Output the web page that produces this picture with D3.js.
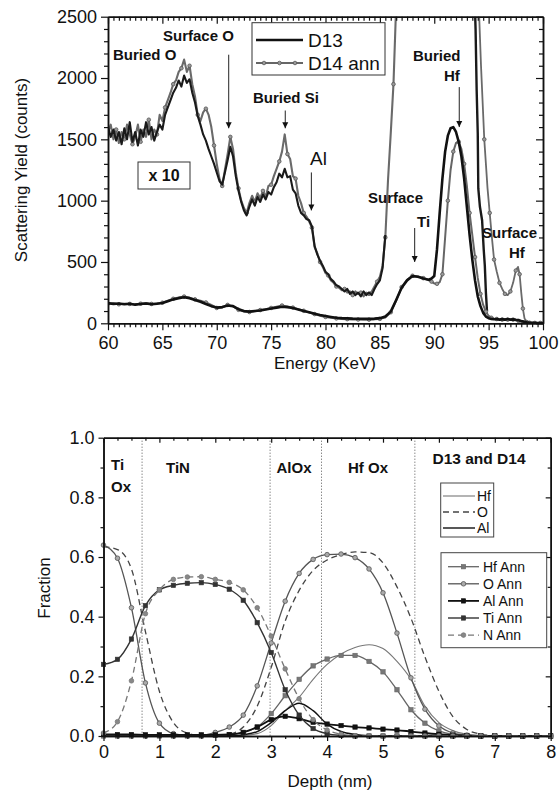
<!DOCTYPE html>
<html>
<head>
<meta charset="utf-8">
<script src="https://cdnjs.cloudflare.com/ajax/libs/d3/7.8.5/d3.min.js"></script>
<style>
  body { margin: 0; background: #fff; }
  svg { display: block; font-family: "Liberation Sans", Arial, sans-serif; }
</style>
</head>
<body>
<svg width="560" height="792"></svg>
<script>
// ---------- top panel: scattering spectra ----------
// x1 spectra, 60-89 keV every 0.5, then 89.5-100 keV every 0.25
var eLow = d3.range(60, 89.01, 0.5);
var eHigh = d3.range(89.5, 100.01, 0.25);

var d13Low = [165,158,162,155,160,152,158,162,155,160,
  165,180,195,205,212,205,190,175,158,140,
  128,132,145,140,115,100,95,100,105,112,
  120,128,135,132,125,112,100,90,78,68,
  60,52,45,42,40,38,37,36,36,38,
  42,55,95,190,290,350,385,380,365];
var d14Low = [160,165,155,160,158,155,160,165,158,162,
  168,185,200,210,218,208,195,185,170,150,
  125,128,150,138,110,95,92,98,108,115,
  125,135,145,138,128,115,102,88,75,62,
  52,45,40,36,34,32,31,30,30,32,
  36,48,90,185,295,355,388,382,368];
var d13High = [355,365,385,600,900,1180,1400,1530,1590,1600,
  1560,1480,1360,1180,950,720,520,350,220,140,
  85,55,42,36,33,35,30,34,30,35,
  30,32,28,25,18,12,8,6,5,4,
  3,3,2];
var d14High = [350,340,325,322,335,400,700,1000,1250,1400,
  1470,1480,1420,1300,1120,900,720,540,370,240,
  150,95,60,45,38,35,32,30,33,30,
  32,30,28,20,12,8,6,5,4,3,
  3,3,2];

// x10 spectra (low energy side), every 0.25 keV
var eX10a = d3.range(60, 85.51, 0.25);
var eX10b = d3.range(60, 86.51, 0.25);
var d13x10 = [1600,1520,1580,1490,1560,1460,1590,1500,1640,1480,
  1560,1450,1580,1520,1640,1540,1600,1490,1560,1620,
  1580,1700,1760,1820,1880,1920,1980,1930,2020,1960,
  1990,1880,1800,1690,1620,1540,1490,1420,1360,1300,
  1230,1160,1130,1230,1330,1440,1360,1200,1080,990,
  920,880,950,1010,960,1030,990,1050,1010,1070,
  1050,1110,1150,1220,1190,1260,1190,1200,1090,1060,
  960,900,880,850,840,790,630,560,510,470,
  420,400,360,340,310,300,280,260,280,240,
  260,230,250,220,260,230,250,230,280,320,
  350,450,720];
var d14x10 = [1560,1620,1500,1580,1470,1560,1500,1620,1540,1460,
  1520,1620,1480,1580,1520,1660,1500,1580,1540,1700,
  1650,1760,1820,1880,1950,1980,2050,2080,2150,2050,
  2100,1950,1850,1700,1650,1720,1750,1700,1600,1450,
  1300,1180,1120,1250,1380,1520,1420,1230,1100,1000,
  940,900,980,1040,990,1060,1020,1080,1030,1120,
  1130,1200,1260,1320,1400,1540,1380,1340,1200,1180,
  1040,980,900,870,830,780,620,570,500,460,
  410,390,350,330,300,290,270,280,250,260,
  230,260,240,250,220,250,240,260,300,340,
  380,470,700,1170,1550,1950,2600];

// x10 spectra (high energy side, surface Hf)
var eX10c = [93.7,93.8,93.9,94.0,94.05,94.2,94.4,94.55,94.65,94.75,94.85];
var d13x10r = [2700,2400,1900,1550,1100,950,840,600,470,250,100];
var eX10d = [94.05,94.3,94.6,94.9,95.1,95.3,95.5,95.75,96.0,96.25,96.5,96.75,97.0,97.25,97.5,97.7,97.85,98.0,98.15,98.3,98.5];
var d14x10r = [2700,2100,1500,1100,900,700,520,420,330,280,240,230,260,330,430,460,400,250,120,40,10];

var xTicksTop = d3.range(60, 101, 5);
var yTicksTop = [0, 500, 1000, 1500, 2000, 2500];

// ---------- bottom panel: depth profiles ----------
var depth = [0,0.25,0.5,0.75,1,1.25,1.5,1.75,2,2.25,2.5,2.75,3,3.25,3.5,3.75,
  4,4.25,4.5,4.75,5,5.25,5.5,5.75,6,6.25,6.5,6.75,7,7.25,7.5,7.75,8];

var hf = [0,0,0,0,0,0,0,0,0,0,0.002,0.008,0.035,0.085,0.13,0.19,0.24,0.275,0.297,0.306,0.293,0.25,0.19,0.1,0.045,0.018,0.006,0.002,0,0,0,0,0];
var o = [0.635,0.625,0.56,0.35,0.15,0.045,0.01,0.002,0.002,0.006,0.03,0.1,0.23,0.385,0.488,0.555,0.59,0.608,0.617,0.615,0.58,0.5,0.395,0.265,0.15,0.065,0.022,0.006,0.001,0,0,0,0];
var al = [0,0,0,0,0,0,0,0,0,0,0.004,0.015,0.045,0.085,0.11,0.085,0.04,0.015,0.005,0.001,0,0,0,0,0,0,0,0,0,0,0,0,0];

var hfAnn = [0,0,0,0,0,0,0,0,0.002,0.005,0.012,0.03,0.075,0.135,0.19,0.235,0.258,0.27,0.27,0.25,0.215,0.155,0.088,0.043,0.017,0.006,0.002,0.001,0,0,0,0,0];
var oAnn = [0.64,0.596,0.43,0.178,0.043,0.008,0.002,0.002,0.012,0.03,0.07,0.168,0.312,0.452,0.545,0.592,0.608,0.61,0.598,0.56,0.48,0.345,0.195,0.09,0.034,0.01,0.003,0.001,0,0,0,0,0];
var alAnn = [0.005,0.005,0.005,0.004,0.004,0.004,0.004,0.004,0.004,0.005,0.012,0.03,0.055,0.066,0.058,0.046,0.04,0.035,0.03,0.027,0.023,0.02,0.015,0.01,0.006,0.003,0.001,0,0,0,0,0,0];
var tiAnn = [0.24,0.257,0.325,0.437,0.49,0.505,0.512,0.514,0.508,0.492,0.455,0.38,0.28,0.155,0.07,0.025,0.008,0.002,0,0,0,0,0,0,0,0,0,0,0,0,0,0,0];
var nAnn = [0.01,0.048,0.185,0.41,0.49,0.525,0.533,0.534,0.525,0.515,0.49,0.43,0.335,0.225,0.125,0.055,0.02,0.006,0.001,0,0,0,0,0,0,0,0,0,0,0,0,0,0];

var layerEdges = [0.69, 2.98, 3.9, 5.57];
var xTicksBot = d3.range(0, 9, 1);
var yTicksBot = [0, 0.2, 0.4, 0.6, 0.8, 1.0];

var svg = d3.select("svg");
var defs = svg.append("defs");

defs.append("marker")
    .attr("id", "arrow")
    .attr("viewBox", "0 0 10 10")
    .attr("refX", 10).attr("refY", 5)
    .attr("markerUnits", "userSpaceOnUse")
    .attr("markerWidth", 6).attr("markerHeight", 8)
    .attr("orient", "auto")
  .append("path").attr("d", "M0,0L10,5L0,10z").attr("fill", "#111");

function drawFrame(x, y, xMaj, xMin, yMaj, yMin, yFmt, big, small, padX, padY) {
  var xr = x.range(), yr = y.range();
  var g = svg.append("g");
  // bottom + left labelled, outward ticks
  g.append("g").attr("transform", "translate(0," + yr[0] + ")")
    .call(d3.axisBottom(x).tickValues(xMaj).tickSize(big).tickSizeOuter(0).tickPadding(padX).tickFormat(d3.format("d")));
  g.append("g").attr("transform", "translate(0," + yr[0] + ")")
    .call(d3.axisBottom(x).tickValues(xMin).tickSize(small).tickSizeOuter(0).tickFormat(""));
  g.append("g").attr("transform", "translate(" + xr[0] + ",0)")
    .call(d3.axisLeft(y).tickValues(yMaj).tickSize(big).tickSizeOuter(0).tickPadding(padY).tickFormat(yFmt));
  g.append("g").attr("transform", "translate(" + xr[0] + ",0)")
    .call(d3.axisLeft(y).tickValues(yMin).tickSize(small).tickSizeOuter(0).tickFormat(""));
  // top + right mirrored, inward ticks
  g.append("g").attr("transform", "translate(0," + yr[1] + ")")
    .call(d3.axisBottom(x).tickValues(xMaj).tickSize(big).tickSizeOuter(0).tickFormat(""));
  g.append("g").attr("transform", "translate(0," + yr[1] + ")")
    .call(d3.axisBottom(x).tickValues(xMin).tickSize(small).tickSizeOuter(0).tickFormat(""));
  g.append("g").attr("transform", "translate(" + xr[1] + ",0)")
    .call(d3.axisLeft(y).tickValues(yMaj).tickSize(big).tickSizeOuter(0).tickFormat(""));
  g.append("g").attr("transform", "translate(" + xr[1] + ",0)")
    .call(d3.axisLeft(y).tickValues(yMin).tickSize(small).tickSizeOuter(0).tickFormat(""));

  g.selectAll(".domain").attr("stroke", "#111").attr("stroke-width", 1.5);
  g.selectAll(".tick line").attr("stroke", "#111").attr("stroke-width", 1.2);
  g.selectAll(".tick text").attr("font-size", 18).attr("fill", "#111")
    .attr("font-family", "'Liberation Sans', Arial, sans-serif");
  return g;
}

function text(str, x, y, size, bold, anchor) {
  return svg.append("text").attr("x", x).attr("y", y)
    .attr("font-size", size).attr("font-weight", bold ? "bold" : "normal")
    .attr("text-anchor", anchor || "start").attr("fill", "#111").text(str);
}

// ================= TOP PANEL =================
var xT = d3.scaleLinear().domain([60, 100]).range([108, 543]);
var yT = d3.scaleLinear().domain([0, 2500]).range([323.3, 16.7]);

defs.append("clipPath").attr("id", "clipTop").append("rect")
    .attr("x", 108).attr("y", 16.7).attr("width", 435).attr("height", 306.6);

var lineT = d3.line().x(function(d) { return xT(d[0]); }).y(function(d) { return yT(d[1]); });

var plotT = svg.append("g").attr("clip-path", "url(#clipTop)");

function spectrum(e, v, color, w, every) {
  var pts = d3.zip(e, v);
  plotT.append("path").datum(pts)
    .attr("d", lineT).attr("fill", "none")
    .attr("stroke", color).attr("stroke-width", w).attr("stroke-linejoin", "round");
  if (every) {
    plotT.selectAll(null).data(pts.filter(function(d, i) { return i % every === 0; }))
      .enter().append("circle")
        .attr("cx", function(d) { return xT(d[0]); })
        .attr("cy", function(d) { return yT(d[1]); })
        .attr("r", 1.8).attr("fill", "#999").attr("stroke", "#555").attr("stroke-width", 0.8);
  }
}

// x10 curves
spectrum(eX10b, d14x10, "#6a6a6a", 2.1, 3);
spectrum(eX10a, d13x10, "#1a1a1a", 2.1);
spectrum(eX10d, d14x10r, "#6a6a6a", 1.8, 2);
spectrum(eX10c, d13x10r, "#1a1a1a", 2.4);
// x1 curves
spectrum(eLow.concat(eHigh), d14Low.concat(d14High), "#666", 2, 2);
spectrum(eLow.concat(eHigh), d13Low.concat(d13High), "#111", 2.6);

drawFrame(xT, yT, xTicksTop, d3.range(60, 100, 0.5).filter(function(d) { return d % 5 !== 0; }),
  yTicksTop, d3.range(0, 2500, 100).filter(function(d) { return d % 500 !== 0; }),
  d3.format("d"), 7, 4, 6, 4);

text("Energy (KeV)", 325, 369, 17, false, "middle");
svg.append("text")
    .attr("transform", "translate(27,170) rotate(-90)")
    .attr("text-anchor", "middle").attr("font-size", 17).attr("fill", "#111")
    .text("Scattering Yield (counts)");

// legend
svg.append("rect").attr("x", 252).attr("y", 22.7).attr("width", 133).attr("height", 52.3)
    .attr("fill", "#fff").attr("stroke", "#333").attr("stroke-width", 1);
svg.append("line").attr("x1", 256).attr("x2", 303).attr("y1", 40).attr("y2", 40)
    .attr("stroke", "#111").attr("stroke-width", 2.6);
svg.append("line").attr("x1", 256).attr("x2", 303).attr("y1", 63).attr("y2", 63)
    .attr("stroke", "#666").attr("stroke-width", 2);
[264, 279.5, 295].forEach(function(cx) {
  svg.append("circle").attr("cx", cx).attr("cy", 63).attr("r", 1.8)
    .attr("fill", "#999").attr("stroke", "#555").attr("stroke-width", 0.8);
});
text("D13", 308, 47, 19);
text("D14 ann", 308, 70, 19);

// x10 box
svg.append("rect").attr("x", 138).attr("y", 162).attr("width", 52).attr("height", 27)
    .attr("fill", "#fff").attr("stroke", "#333").attr("stroke-width", 1);
text("x 10", 164, 181, 16, true, "middle");

// peak annotations
var arrows = [
  { e: 71.1, from: 2190, to: 1590 },
  { e: 76.3, from: 1735, to: 1590 },
  { e: 78.7, from: 1230, to: 920 },
  { e: 88.2, from: 777, to: 500 },
  { e: 92.3, from: 1926, to: 1600 }
];
arrows.forEach(function(a) {
  svg.append("line")
    .attr("x1", xT(a.e)).attr("x2", xT(a.e))
    .attr("y1", yT(a.from)).attr("y2", yT(a.to))
    .attr("stroke", "#222").attr("stroke-width", 1)
    .attr("marker-end", "url(#arrow)");
});
text("Buried O", 113, 60, 15, true);
text("Surface O", 163, 41, 15, true);
text("Buried Si", 253, 103, 15, true);
text("Al", 310, 165, 19);
text("Surface", 368, 203, 15, true);
text("Ti", 417, 227, 15, true);
text("Buried", 413, 61, 15, true);
text("Hf", 444, 81, 15, true);
text("Surface", 482, 238, 15, true);
text("Hf", 509, 258, 15, true);

// ================= BOTTOM PANEL =================
var xB = d3.scaleLinear().domain([0, 8]).range([103.5, 550.7]);
var yB = d3.scaleLinear().domain([0, 1]).range([736, 437.7]);

var lineB = d3.line().curve(d3.curveMonotoneX)
  .x(function(d) { return xB(d[0]); }).y(function(d) { return yB(d[1]); });

// layer boundaries
svg.selectAll("line.edge").data(layerEdges).enter().append("line")
    .attr("class", "edge")
    .attr("x1", function(d) { return xB(d); }).attr("x2", function(d) { return xB(d); })
    .attr("y1", yB(1)).attr("y2", yB(0))
    .attr("stroke", "#555").attr("stroke-width", 1).attr("stroke-dasharray", "1,2");

var profiles = [
  { name: "Hf",     v: hf,    color: "#777", w: 1.1, dash: null },
  { name: "O",      v: o,     color: "#444", w: 1.3, dash: "6,4" },
  { name: "Al",     v: al,    color: "#111", w: 1.4, dash: null },
  { name: "Hf Ann", v: hfAnn, color: "#666", w: 1.3, dash: null,  mark: "square", mfill: "#777" },
  { name: "O Ann",  v: oAnn,  color: "#555", w: 1.3, dash: null,  mark: "circle", mfill: "#aaa" },
  { name: "Al Ann", v: alAnn, color: "#111", w: 1.8, dash: null,  mark: "square", mfill: "#111" },
  { name: "Ti Ann", v: tiAnn, color: "#333", w: 1.4, dash: null,  mark: "square", mfill: "#333" },
  { name: "N Ann",  v: nAnn,  color: "#777", w: 1.3, dash: "6,4", mark: "circle", mfill: "#888" }
];

function drawMark(g, kind, cx, cy, fill, stroke) {
  if (kind === "square") {
    g.append("rect").attr("x", cx - 2.2).attr("y", cy - 2.2).attr("width", 4.4).attr("height", 4.4)
      .attr("fill", fill).attr("stroke", stroke).attr("stroke-width", 0.6);
  } else {
    g.append("circle").attr("cx", cx).attr("cy", cy).attr("r", 2.3)
      .attr("fill", fill).attr("stroke", stroke).attr("stroke-width", 0.8);
  }
}

var plotB = svg.append("g");
profiles.forEach(function(p) {
  var pts = d3.zip(depth, p.v);
  plotB.append("path").datum(pts)
    .attr("d", lineB).attr("fill", "none")
    .attr("stroke", p.color).attr("stroke-width", p.w)
    .attr("stroke-dasharray", p.dash);
  if (p.mark) {
    pts.forEach(function(d) { drawMark(plotB, p.mark, xB(d[0]), yB(d[1]), p.mfill, p.color); });
  }
});

drawFrame(xB, yB, xTicksBot, d3.range(0, 8, 0.25).filter(function(d) { return d % 1 !== 0; }),
  yTicksBot, [0.1, 0.3, 0.5, 0.7, 0.9], d3.format(".1f"), 5, 3, 4, 4);

text("Depth (nm)", 330, 787, 17, false, "middle");
svg.append("text")
    .attr("transform", "translate(50,588) rotate(-90)")
    .attr("text-anchor", "middle").attr("font-size", 17).attr("fill", "#111")
    .text("Fraction");

// layer names
text("Ti", 111, 470, 15, true);
text("Ox", 111, 492, 15, true);
text("TiN", 178, 473, 15, true, "middle");
text("AlOx", 294, 473, 15, true, "middle");
text("Hf Ox", 368, 473, 15, true, "middle");
text("D13 and D14", 479, 464, 15.5, true, "middle");

// legend: as-deposited
svg.append("rect").attr("x", 440.7).attr("y", 483).attr("width", 53).attr("height", 54)
    .attr("fill", "#fff").attr("stroke", "#444").attr("stroke-width", 1);
profiles.slice(0, 3).forEach(function(p, i) {
  var ly = 496 + i * 16;
  svg.append("line").attr("x1", 443).attr("x2", 475).attr("y1", ly).attr("y2", ly)
    .attr("stroke", p.color).attr("stroke-width", p.w).attr("stroke-dasharray", p.dash);
  text(p.name, 477, ly + 5, 14);
});

// legend: annealed
svg.append("rect").attr("x", 441).attr("y", 552.7).attr("width", 105.7).attr("height", 95)
    .attr("fill", "#fff").attr("stroke", "#444").attr("stroke-width", 1);
profiles.slice(3).forEach(function(p, i) {
  var ly = 566.7 + i * 17.1;
  svg.append("line").attr("x1", 448).attr("x2", 479).attr("y1", ly).attr("y2", ly)
    .attr("stroke", p.color).attr("stroke-width", p.w).attr("stroke-dasharray", p.dash);
  drawMark(svg, p.mark, 463.5, ly, p.mfill, p.color);
  text(p.name, 483, ly + 5, 14);
});
</script>
</body>
</html>
